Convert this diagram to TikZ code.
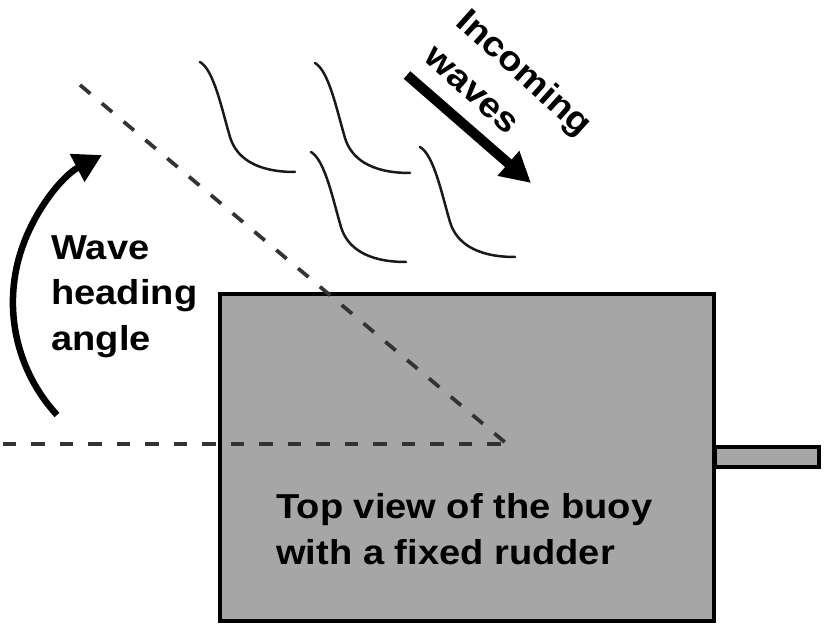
\documentclass[tikz,border=0pt]{standalone}
\usepackage{fontspec}
\usepackage{xcolor}
\usepackage{tikz}
\usetikzlibrary{arrows.meta,positioning}
\newfontfamily\labelfont[FakeStretch=1.1]{Liberation Sans}
\definecolor{buoygray}{HTML}{A6A6A6}
\definecolor{dashgray}{HTML}{333333}

\begin{document}
\begin{tikzpicture}[
  x=0.02cm,y=0.02cm,
  every node/.style={font=\labelfont\bfseries\fontsize{19.7}{26}\selectfont,inner sep=0pt,align=left},
  hull/.style={draw,line width=0.08cm,fill=buoygray},
  refline/.style={draw=dashgray,line width=0.075cm,dash pattern=on 0.27cm off 0.3cm},
  wave/.style={draw=black!90,line width=0.05cm,line cap=round},
  turnarrow/.style={line width=0.13cm,-{Triangle[length=0.56cm,width=0.6cm]}},
  pusharrow/.style={line width=0.2cm,-{Triangle[length=0.6cm,width=0.62cm]}},
]
\useasboundingbox (0,0) rectangle (826,-628);
\draw[hull] (715,-447) rectangle (819,-467);
\draw[hull] (220,-294) rectangle (714,-621);
\coordinate (vertex) at (507,-444);
\coordinate (hstart) at (3,-444);
\coordinate (dstart) at (80,-85);
\draw[refline] (hstart) -- (vertex);
\draw[refline] (dstart) -- (vertex);
\foreach \wx/\wy in {200/62,315/63,311/152,420/147}
  \draw[wave,shift={(\wx,-\wy)}] (0,0) .. controls (14,-8) and (22,-48) .. (30,-75)
    .. controls (36,-95) and (55,-110) .. (95,-110);
\coordinate (arcstart) at (57,-415);
\draw[turnarrow] (arcstart) arc[start angle=222.7,end angle=117.7,radius=166.3];
\coordinate (wavetail) at (407,-75);
\coordinate (wavetip) at (531,-183);
\draw[pusharrow] (wavetail) -- (wavetip);
\node[anchor=north west] (heading) at (51,-235) {Wave\\heading\\angle};
\node[anchor=north west] (buoy) at (276,-493) {Top view of the buoy\\with a fixed rudder};
\node[anchor=north west,rotate=-42,font=\labelfont\bfseries\fontsize{19.7}{27}\selectfont]
  (incoming) at (471,-5) {Incoming\\waves};
\end{tikzpicture}
\end{document}
